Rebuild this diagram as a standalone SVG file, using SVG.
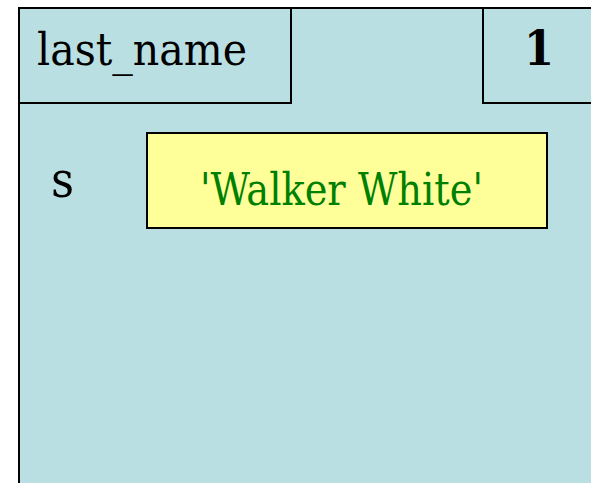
<svg xmlns="http://www.w3.org/2000/svg" width="591" height="483" viewBox="0 0 591 483">
<style>
.frame{fill:#B9DFE3;stroke:#000;stroke-width:2}
.val{fill:#FFFF99;stroke:#000;stroke-width:2}
.t{font-family:'DejaVu Serif Condensed','DejaVu Serif',serif;font-stretch:condensed;fill:#000}
.g{fill:#008000}
</style>
<rect width="591" height="483" fill="#fff"/>
<g id="frame">
<rect class="frame" x="19" y="8" width="600" height="500"/>
</g>
<g id="name-box">
<rect class="frame" x="19" y="8" width="272" height="95"/>
<text class="t" x="37" y="65" font-size="45" textLength="210" lengthAdjust="spacingAndGlyphs">last_name</text>
</g>
<g id="counter-box">
<rect class="frame" x="483" y="8" width="120" height="95"/>
<text class="t" x="539" y="65" font-size="48" font-weight="bold" text-anchor="middle">1</text>
</g>
<g id="var-s">
<text class="t" x="51" y="197" font-size="50">s</text>
</g>
<g id="value-box">
<rect class="val" x="147" y="133" width="400" height="95"/>
<text class="t g" x="200" y="205" font-size="44" textLength="283" lengthAdjust="spacingAndGlyphs">'Walker White'</text>
</g>
<g id="connectors"></g>
</svg>
